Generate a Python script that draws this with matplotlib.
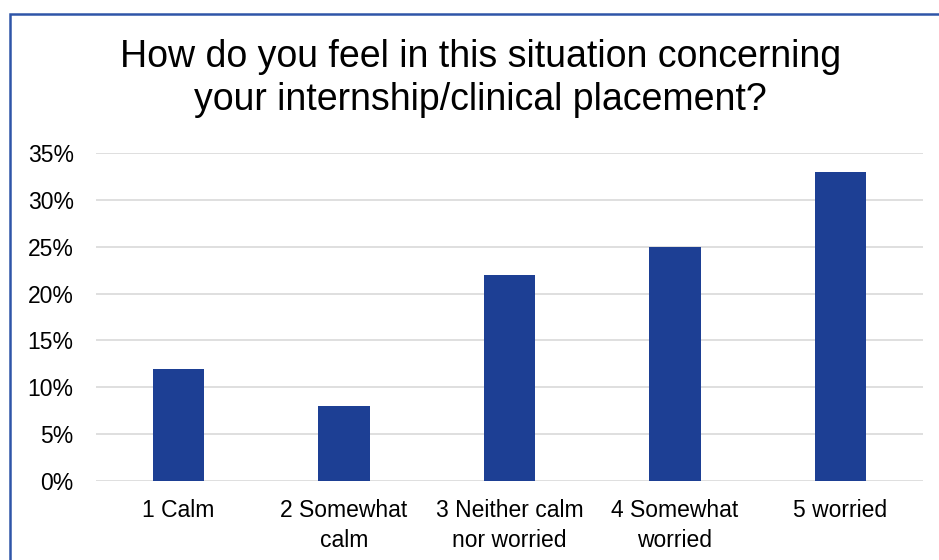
import matplotlib.pyplot as plt
from matplotlib.patches import Rectangle
from matplotlib.ticker import MultipleLocator, PercentFormatter

categories = ["1 Calm", "2 Somewhat\ncalm", "3 Neither calm\nnor worried",
              "4 Somewhat\nworried", "5 worried"]
shares = [0.12, 0.08, 0.22, 0.25, 0.33]

title = "How do you feel in this situation concerning\nyour internship/clinical placement?"

plt.rcParams["font.family"] = ["Liberation Sans", "DejaVu Sans"]

fig = plt.figure(figsize=(9.39, 5.6), dpi=100)
ax = fig.add_axes([0.1022, 0.1411, 0.8808, 0.5857])

x = range(len(categories))
ax.bar(x, shares, width=0.31, color="#1D3F94", zorder=3)

ax.set_xlim(-0.5, len(categories) - 0.5)
ax.set_ylim(0, 0.35)
ax.yaxis.set_major_locator(MultipleLocator(0.05))
ax.yaxis.set_major_formatter(PercentFormatter(1.0, decimals=0))
ax.grid(axis="y", color="#D9D9D9", linewidth=1.2, zorder=0)
for s in ax.spines.values():
    s.set_visible(False)
ax.set_xticks(list(x))
ax.set_xticklabels(categories, linespacing=1.37)
ax.tick_params(axis="x", length=0, pad=13, labelsize=16.5)
ax.tick_params(axis="y", length=0, pad=16, labelsize=16.5)

fig.text(0.512, 0.86, title, ha="center", va="center", fontsize=27,
         linespacing=1.24)

# chart border (runs off the right and bottom edges)
fig.patches.append(Rectangle((10 / 939, -0.05), 1.0, 1 - 13.5 / 560 + 0.05,
                             transform=fig.transFigure, fill=False,
                             edgecolor="#2F55A8", linewidth=1.8))

fig.savefig("out.png", dpi=100)
